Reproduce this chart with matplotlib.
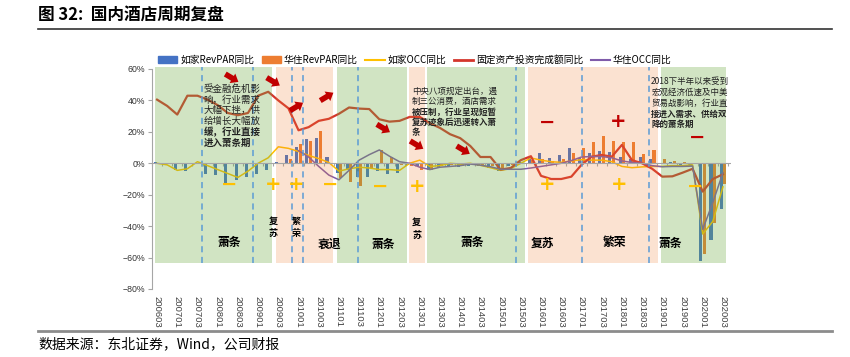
import numpy as np
import matplotlib
matplotlib.use('Agg')
import matplotlib.pyplot as plt
from matplotlib.patches import Rectangle, Patch
from matplotlib.lines import Line2D

plt.rcParams['font.family'] = ['Noto Sans CJK SC', 'DejaVu Sans']

# quarters 2006Q3 .. 2020Q3, label format YYYY0Q
quarters = [f'{y}0{q}' for y in range(2006, 2021) for q in (1, 2, 3, 4)][2:-1]
tick_labels = quarters[::2]
nan = np.nan

homeinns_revpar = [1, -1, -4.3, -4.9, -0.5, -6.6, -7.6, -12.5, -10.8, -8.7,
                   -6.6, -4, 1, 5, 10.5, 15.3, 16, 4.3, -6, -4,
                   -8.5, -8.5, -4.7, -7, -6, -1, -1.5, -4.3, -3.2, -2,
                   -2.5, -1.5, -2, -3, -5, -2, 1, 4.2, 6.3, 3.2,
                   5.3, 9.5, 3.2, 6.8, 7.9, 7.2, 4, 2.5, 4, 2.6,
                   0.5, 1, -2, -1.5, -62, -49, -29]
huazhu_revpar = [nan] * 13 + [3, 12, 14.5, 20.8, 0.5, -9.5, -11.7,
                   -14.4, -3, 8.6, 4, -1, -2, -4.3, -4, -1.5, -1,
                   -1.5, -0.5, -1, -2, -3.5, -1, 0.5, 2, 3, 1.5,
                   3, 6.4, 9.5, 13.8, 17.3, 14.5, 13.5, 13.5, 6, 8.5,
                   2.7, 1.7, 0.8, -0.5, -57.5, -38, -13]
homeinns_occ = [0, -1, -4.5, -3.5, 1, -1.5, -4, -6.5, -9, -5,
                0, 3.5, 10.5, 9.5, 7.5, 5, 3, 0.5, -5, -3.5,
                -2.5, -3, -4, -4, -4.5, 0, 2, -2, -1.5, 0,
                -0.5, 0, -1.3, -2.8, -4.5, -3.4, 0, 3.4, 2, 1,
                0.6, 1.5, 2.3, 2, 2, 1, -2, -2.8, -2.3, -2,
                -2, -1.5, -1.5, -1, -45, -37, -15]
fai_yoy = [40.5, 36.5, 31, 43, 43, 40.5, 37, 32, 30.6, 32,
           43, 45.5, 40, 35, 21, 23, 27, 28.3, 31.5, 35.5,
           34.8, 34.5, 28, 26.5, 27, 29.5, 29.5, 25.5, 22.5, 18.5,
           16, 11, 4, 4, -4, -3, 2, 4.5, -8, -10,
           -10, -8.5, -1, 4.2, 5.3, 4.2, 11.7, 2, 0, -3.5,
           -8.5, -8.3, -6, -3.5, -18, -10, -7]
huazhu_occ = [nan] * 14 + [8, 4, -2, -7.5, -10.5, -4.5,
              2, 5.5, 8.5, 4.5, 1, 0, -2.5, -4, -2.5, -2,
              -1.5, -0.5, -1.2, -2.2, -3.8, -3.8, -3.8, -3, -2, -1,
              0, 1.7, 4, 4.3, 4.3, 3.5, 1.5, 0.5, 0, -1.5,
              -2.2, -2, -2, -1.8, -42, -25, -6]

# cycle phases (quarter index spans), green = 萧条/衰退 , pink = 复苏/繁荣
phase_start = [-0.2, 11.8, 17.8, 24.9, 26.7, 36.7, 49.9]
phase_end = [11.4, 17.4, 24.7, 26.5, 36.4, 49.6, 56.3]
phase_kind = ['g', 'p', 'g', 'p', 'g', 'p', 'g']
divider_x = [4.46, 9.53, 13.34, 14.49, 19.87, 35.5, 42.05, 48.64]

phase_names = ['萧条', '复\n苏', '繁\n荣', '衰退', '萧条', '复\n苏', '萧条', '复苏', '繁荣', '萧条']
phase_name_x = [7.1, 11.5, 13.8, 17.1, 22.4, 25.7, 31.2, 38.1, 45.3, 50.8]
phase_name_y = [-50.6, -41, -40.6, -51.4, -51.4, -41.8, -50.6, -50.8, -50.4, -50.8]

yellow_signs = ['−', '+', '+', '−', '−', '+', '+', '+', '−']
yellow_sign_x = [7.15, 11.5, 13.8, 17.1, 22.1, 25.7, 38.6, 45.7, 53.3]
yellow_sign_y = [-13.2, -13.2, -13.2, -13.2, -14.5, -14.5, -13.2, -13.2, -15]
red_signs = ['−', '+', '−']
red_sign_x = [38.6, 45.6, 53.4]
red_sign_y = [25.9, 26.3, 16.6]

arrow_x = [7.4, 11.5, 13.8, 16.8, 22.4, 25.7, 30.3]
arrow_y = [54.3, 52, 36, 42.4, 22.3, 11.7, 8.5]
arrow_dir = [-1, -1, 1, 1, -1, -1, -1]

note1 = ['受金融危机影', '响，行业需求', '大幅下挫，供', '给增长大幅放', '缓，行业直接', '进入萧条期']
note1_bold = [False, False, False, False, True, True]
note2 = ['中央八项规定出台，遏', '制三公消费，酒店需求', '被压制，行业呈现短暂', '复苏迹象后迅速转入萧', '条']
note2_bold = [False, False, True, True, True]
note3 = ['2018下半年以来受到', '宏观经济低速及中美', '贸易战影响，行业直', '接进入需求、供给双', '降的萧条期']
note3_bold = [False, False, False, True, True]

C_BLUE, C_ORANGE, C_YELLOW = '#4472C4', '#ED7D31', '#FFC000'
C_RED, C_PURPLE = '#D4352C', '#7F5BAA'

fig = plt.figure(figsize=(8.5, 3.57), dpi=100)
ax = fig.add_axes([152 / 850, 68 / 357, 579 / 850, 220 / 357])
x = np.arange(len(quarters))
ax.set_xlim(-0.5, 56.8)
ax.set_ylim(-80, 60)

ax.bar(x - 0.18, homeinns_revpar, width=0.3, color=C_BLUE, zorder=2)
ax.bar(x + 0.18, huazhu_revpar, width=0.3, color=C_ORANGE, zorder=2)
ax.plot(x, homeinns_occ, color=C_YELLOW, lw=1.1, zorder=3)
ax.plot(x, fai_yoy, color=C_RED, lw=1.6, zorder=3)
ax.plot(x, huazhu_occ, color=C_PURPLE, lw=1.1, zorder=3)

# translucent phase shading drawn over the data
for s, e, k in zip(phase_start, phase_end, phase_kind):
    col, a = ('#70AD47', 0.32) if k == 'g' else ('#ED7D31', 0.22)
    ax.add_patch(Rectangle((s, -63.5), e - s, 124.8, facecolor=col, alpha=a,
                           lw=0, zorder=4, clip_on=False))
vl = ax.vlines(divider_x, -63.5, 61.3, colors='#5B9BD5', linestyles=(0, (4, 3)),
               lw=1.1, zorder=5)
vl.set_clip_on(False)

# zero line with category ticks
ax.axhline(0, color='#A6A6A6', lw=0.8, zorder=5)
sec = ax.secondary_xaxis(80 / 140)
sec.set_alignment('bottom')
sec.set_xticks(np.arange(-0.5, 57, 1))
sec.tick_params(length=2, color='#A6A6A6', labelbottom=False, labeltop=False)
for sp in sec.spines.values():
    sp.set_visible(False)

for sp in ['top', 'right', 'bottom']:
    ax.spines[sp].set_visible(False)
ax.spines['left'].set_color('#A6A6A6')
ax.set_yticks(range(-80, 61, 20))
ax.set_yticklabels([f'{v}%'.replace('-', '\u2212') for v in range(-80, 61, 20)],
                   fontsize=6.3, fontfamily='Liberation Sans', color='#333333')
ax.tick_params(axis='y', length=3, color='#A6A6A6', pad=2)
ax.set_xticks(x[::2])
ax.set_xticklabels(tick_labels, rotation=-90, fontsize=6.8,
                   fontfamily='Liberation Sans', color='#404040')
ax.tick_params(axis='x', length=0, pad=5)

for t, px, py in zip(phase_names, phase_name_x, phase_name_y):
    vert = '\n' in t
    ax.text(px, py, t, fontsize=6.5 if vert else 8.5, weight='bold', ha='center',
            va='center', linespacing=1.45, zorder=7)
for t, px, py in zip(yellow_signs, yellow_sign_x, yellow_sign_y):
    ax.text(px, py, t, fontsize=14, weight='bold', color=C_YELLOW, ha='center',
            va='center', family='DejaVu Sans', zorder=7)
for t, px, py in zip(red_signs, red_sign_x, red_sign_y):
    ax.text(px, py, t, fontsize=14, weight='bold', color='#C00000', ha='center',
            va='center', family='DejaVu Sans', zorder=7)
for px, py, d in zip(arrow_x, arrow_y, arrow_dir):
    ax.annotate('', xy=(px + 0.65, py + 2.5 * d), xytext=(px - 0.65, py - 2.5 * d),
                arrowprops=dict(arrowstyle='simple,head_length=0.5,head_width=0.8,tail_width=0.4',
                                fc='#C00000', ec='none', mutation_scale=10,
                                shrinkA=0, shrinkB=0), zorder=7)


def note(lines, bold, x0, y0, step, size):
    for k, (line, b) in enumerate(zip(lines, bold)):
        ax.text(x0, y0 - k * step, line, fontsize=size, weight='bold' if b else 'normal',
                ha='left', va='center', color='#222222', zorder=7)


note(note1, note1_bold, 4.6, 47.3, 6.8, 6.8)
note(note2, note2_bold, 25.2, 45.6, 6.5, 6.1)
note(note3, note3_bold, 48.9, 52, 6.9, 6.1)

handles = [Patch(color=C_BLUE), Patch(color=C_ORANGE),
           Line2D([], [], color=C_YELLOW, lw=1.5), Line2D([], [], color=C_RED, lw=2),
           Line2D([], [], color=C_PURPLE, lw=1.5)]
labels = ['如家RevPAR同比', '华住RevPAR同比', '如家OCC同比', '固定资产投资完成额同比', '华住OCC同比']
fig.legend(handles, labels, loc='center left', bbox_to_anchor=(158 / 850, 1 - 60 / 357),
           ncol=5, frameon=False, fontsize=7, handlelength=2.0, handletextpad=0.3,
           columnspacing=0.75, borderpad=0, borderaxespad=0, handleheight=0.6)

fig.text(38 / 850, 1 - 15 / 357, '图 32:  国内酒店周期复盘', fontsize=12, weight='bold',
         ha='left', va='center')
fig.add_artist(Line2D([38 / 850, 832 / 850], [1 - 28.5 / 357] * 2, color='#333333', lw=1.2))
fig.add_artist(Line2D([38 / 850, 832 / 850], [1 - 331 / 357] * 2, color='#8C8C8C', lw=2))
fig.text(38 / 850, 1 - 344 / 357, '数据来源：东北证券，Wind，公司财报', fontsize=10,
         ha='left', va='center')

fig.savefig('out.png', dpi=100)
